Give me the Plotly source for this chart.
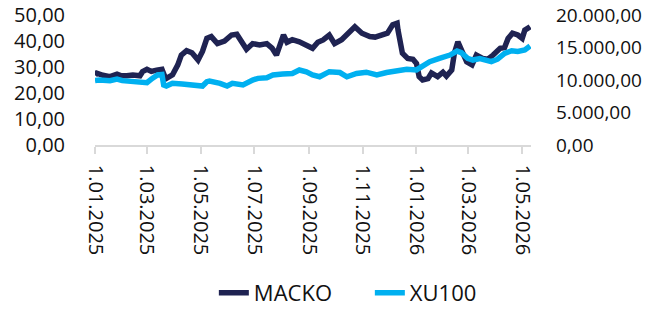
import plotly.graph_objects as go

macko_dates = [
    "2025-01-01", "2025-01-03", "2025-01-10", "2025-01-18", "2025-01-26", "2025-01-31",
    "2025-02-06", "2025-02-13", "2025-02-21", "2025-02-24", "2025-03-01", "2025-03-06",
    "2025-03-12", "2025-03-18", "2025-03-21", "2025-03-23", "2025-03-30", "2025-04-05",
    "2025-04-09", "2025-04-15", "2025-04-21", "2025-04-28", "2025-05-03", "2025-05-08",
    "2025-05-13", "2025-05-20", "2025-05-28", "2025-06-05", "2025-06-11", "2025-06-17",
    "2025-06-22", "2025-06-29", "2025-07-07", "2025-07-15", "2025-07-21", "2025-07-26",
    "2025-08-01", "2025-08-03", "2025-08-07", "2025-08-13", "2025-08-21", "2025-08-29",
    "2025-09-05", "2025-09-11", "2025-09-17", "2025-09-24", "2025-09-30", "2025-10-08",
    "2025-10-14", "2025-10-23", "2025-10-31", "2025-11-09", "2025-11-15", "2025-11-23",
    "2025-11-29", "2025-12-05", "2025-12-10", "2025-12-11", "2025-12-14", "2025-12-16",
    "2025-12-22", "2025-12-28", "2026-01-01", "2026-01-04", "2026-01-08", "2026-01-14",
    "2026-01-18", "2026-01-25", "2026-01-31", "2026-02-04", "2026-02-10", "2026-02-13",
    "2026-02-17", "2026-02-21", "2026-02-27", "2026-03-05", "2026-03-10", "2026-03-17",
    "2026-03-23", "2026-03-29", "2026-04-06", "2026-04-11", "2026-04-15", "2026-04-20",
    "2026-04-26", "2026-05-01", "2026-05-04", "2026-05-10",
]
macko_values = [
    26.8, 27.6, 26.8, 26.3, 27.2, 26.6,
    26.6, 26.9, 26.6, 28.2, 29.1, 28.3,
    28.8, 29.1, 26.5, 25.6, 27.0, 30.8,
    34.6, 36.3, 35.5, 32.7, 36.0, 41.0,
    41.7, 39.0, 40.0, 42.3, 42.6, 39.0,
    36.8, 39.0, 38.5, 39.0, 37.3, 34.6,
    39.7, 42.3, 39.5, 40.5, 39.7, 38.5,
    37.2, 39.5, 40.4, 42.3, 39.0, 40.5,
    42.3, 45.5, 43.0, 41.7, 41.5, 42.3,
    43.0, 46.2, 46.8, 44.2, 39.0, 35.3,
    33.3, 33.0, 31.4, 26.3, 25.0, 25.5,
    27.7, 26.3, 28.0, 26.5, 28.8, 35.3,
    39.7, 36.5, 32.0, 30.8, 34.6, 33.3,
    33.0, 34.6, 37.2, 37.5, 41.0, 43.0,
    42.3, 41.0, 44.2, 45.5,
]

xu_dates = [
    "2025-01-01", "2025-01-06", "2025-01-18", "2025-01-26", "2025-02-01", "2025-02-09",
    "2025-02-21", "2025-03-01", "2025-03-07", "2025-03-13", "2025-03-18", "2025-03-20",
    "2025-03-23", "2025-03-30", "2025-04-10", "2025-04-22", "2025-05-03", "2025-05-08",
    "2025-05-11", "2025-05-23", "2025-05-31", "2025-06-06", "2025-06-18", "2025-06-29",
    "2025-07-05", "2025-07-15", "2025-07-22", "2025-08-02", "2025-08-13", "2025-08-21",
    "2025-08-29", "2025-09-05", "2025-09-11", "2025-09-13", "2025-09-24", "2025-10-06",
    "2025-10-14", "2025-10-25", "2025-11-05", "2025-11-17", "2025-11-28", "2025-12-10",
    "2025-12-21", "2026-01-01", "2026-01-08", "2026-01-16", "2026-01-27", "2026-02-08",
    "2026-02-16", "2026-02-21", "2026-02-28", "2026-03-06", "2026-03-14", "2026-03-22",
    "2026-03-27", "2026-04-03", "2026-04-11", "2026-04-19", "2026-04-26", "2026-05-04",
    "2026-05-10",
]
xu_values = [
    9900, 10000, 9900, 10150, 9900, 9850,
    9800, 9590, 10250, 10770, 10850, 9230,
    9070, 9500, 9400, 9250, 9070, 9740,
    9840, 9490, 9070, 9500, 9230, 10000,
    10250, 10350, 10770, 10920, 11000, 11540,
    11250, 10770, 10500, 10500, 11280, 11150,
    10500, 11000, 11200, 10770, 11150, 11430,
    11640, 11550, 12050, 12820, 13330, 13840,
    14450, 14200, 13330, 13070, 13300, 13070,
    12820, 13200, 14100, 14500, 14400, 14610,
    15230,
]

left_ticks = [0, 10, 20, 30, 40, 50]
left_labels = ["0,00", "10,00", "20,00", "30,00", "40,00", "50,00"]
right_ticks = [0, 5000, 10000, 15000, 20000]
right_labels = ["0,00", "5.000,00", "10.000,00", "15.000,00", "20.000,00"]
x_ticks = ["2025-01-01", "2025-03-01", "2025-05-01", "2025-07-01", "2025-09-01",
           "2025-11-01", "2026-01-01", "2026-03-01", "2026-05-01"]
x_labels = ["1.01.2025", "1.03.2025", "1.05.2025", "1.07.2025", "1.09.2025",
            "1.11.2025", "1.01.2026", "1.03.2026", "1.05.2026"]

NAVY = "#1F2352"
BLUE = "#00B0F0"
FONT = "Open Sans"

fig = go.Figure()
fig.add_trace(go.Scatter(x=macko_dates, y=macko_values, name="MACKO", mode="lines",
                         line=dict(color=NAVY, width=5.5), yaxis="y"))
fig.add_trace(go.Scatter(x=xu_dates, y=xu_values, name="XU100", mode="lines",
                         line=dict(color=BLUE, width=5.5), yaxis="y2"))

fig.update_layout(
    width=650, height=316,
    margin=dict(l=95, r=119, t=15, b=171, autoexpand=False),
    paper_bgcolor="white", plot_bgcolor="white",
    font=dict(family=FONT, size=20, color="#111111"),
    showlegend=True,
    legend=dict(orientation="h", x=0.329, xanchor="left", xref="container",
                y=0.073, yanchor="middle", yref="container", font=dict(size=22),
                entrywidth=111, traceorder="normal"),
    xaxis=dict(
        type="date", range=["2025-01-01", "2026-05-11"],
        tickvals=x_ticks, ticktext=x_labels, tickangle=90,
        showgrid=False, zeroline=False, automargin=False,
        showline=True, linecolor="#D9D9D9", linewidth=1.5,
        ticks="outside", ticklen=7, tickcolor="#D9D9D9", tickwidth=1.5,
        tickfont=dict(size=20), ticklabelstandoff=7,
    ),
    yaxis=dict(
        range=[0, 50], tickvals=left_ticks, ticktext=left_labels,
        showgrid=False, zeroline=False, showline=False, automargin=False,
        ticklabelstandoff=29,
    ),
    yaxis2=dict(
        range=[0, 20000], tickvals=right_ticks, ticktext=right_labels,
        overlaying="y", side="right", automargin=False,
        showgrid=False, zeroline=False, showline=False,
        ticklabelstandoff=24, tickfont=dict(size=19),
    ),
)

# remove the default 8px page margin so the figure fills the window exactly
fig.write_html("out.html", config={"displayModeBar": False},
               post_script="document.body.style.margin='0';document.body.style.overflow='hidden';")
